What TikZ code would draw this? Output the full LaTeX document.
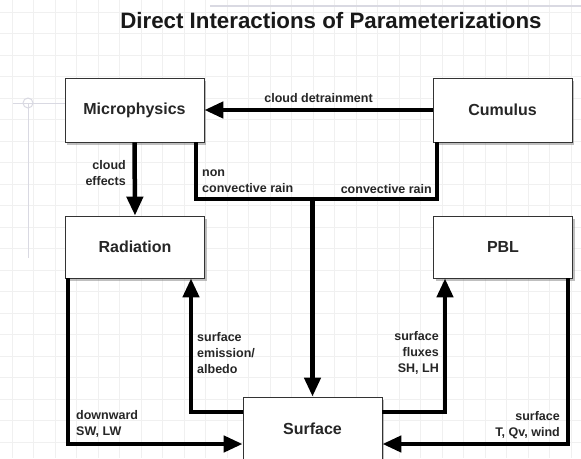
\documentclass[tikz,border=0pt]{standalone}
\usepackage{fontspec}
\setmainfont{Liberation Sans}
\usetikzlibrary{calc,positioning,arrows.meta,shadows}

\tikzset{
  param/.style={draw=black!80, line width=0.8pt, fill=white,
    minimum width=139pt, minimum height=64pt, text=black!85,
    font=\fontsize{16}{18}\selectfont\bfseries,
    drop shadow={shadow xshift=2pt,shadow yshift=-2.5pt,opacity=0.5}},
  link/.style={line width=4.5pt, black},
  flow/.style={link, -{Triangle[length=19pt,width=16pt]}},
  lbl/.style={font=\fontsize{12.5}{16}\selectfont\bfseries, text=black!85, inner sep=0pt},
  gridline/.style={black!6, line width=0.6pt},
  guide/.style={blue!25!black!15, line width=1pt}
}

\begin{document}
\begin{tikzpicture}[x=1pt,y=-1pt]
\useasboundingbox (0,0) rectangle (581,458);
\fill[white] (0,0) rectangle (581,458);

% faint grid of the slide
\foreach \gx in {12,33.5,...,581} \draw[gridline] (\gx,0) -- (\gx,458);
\foreach \gy in {12,33.5,...,458} \draw[gridline] (0,\gy) -- (581,\gy);
\draw[guide, line width=2pt] (210,6) -- (581,6);
\draw[guide] (13,103) -- (65,103);
\draw[guide] (28,103) -- (28,258);
\draw[guide] (28,103) circle (5);

\node[font=\fontsize{22.3}{25}\selectfont\bfseries, text=black!90] (title) at (331,21) {Direct Interactions of Parameterizations};

% parameterizations
\node[param] (micro) at (134.5,110) {Microphysics};
\node[param] (cumulus) at (502.5,110) {Cumulus};
\node[param, minimum height=62pt] (rad) at (135,247) {Radiation};
\node[param, minimum height=62pt] (pbl) at (503,247) {PBL};
\node[param] (surface) at (312.5,429) {Surface};

% bends of the connectors
\coordinate (mrain) at (196,199);
\coordinate (crain) at (437,199);
\coordinate (split) at (312.5,199);
\coordinate (dnL) at (68,444);
\coordinate (emis) at (191,412);
\coordinate (flux) at (445,412);
\coordinate (dnR) at (568,444);

\draw[flow] (cumulus.west) -- (micro.east)
  node[lbl, midway, above=5pt] (detrain) {cloud detrainment};
\draw[flow] (micro.south) -- (rad.north);
\draw[link] (micro.south -| mrain) |- (split) -| (cumulus.south -| crain);
\draw[flow] (split) -- (surface.north);
\draw[flow] (rad.south -| dnL) |- (surface.west |- dnL);
\draw[flow] (surface.west |- emis) -| (rad.south -| emis);
\draw[flow] (surface.east |- flux) -| (pbl.south -| flux);
\draw[flow] (pbl.south -| dnR) |- (surface.east |- dnR);

% labels
\node[lbl, align=right, anchor=east] (effects) at (126,173) {cloud\\effects};
\node[lbl, align=left, anchor=west] (nonconv) at (202,181) {non\\convective rain};
\node[lbl, anchor=east] (conv) at (432,189) {convective rain};
\node[lbl, align=left, anchor=west] (downlbl) at (76,424) {downward\\SW, LW};
\node[lbl, align=left, anchor=west] (emislbl) at (197,353) {surface\\emission/\\albedo};
\node[lbl, align=right, anchor=east] (fluxlbl) at (439,353) {surface\\fluxes\\SH, LH};
\node[lbl, align=right, anchor=east] (sfclbl) at (560,425) {surface\\T, Qv, wind};

\end{tikzpicture}
\end{document}
